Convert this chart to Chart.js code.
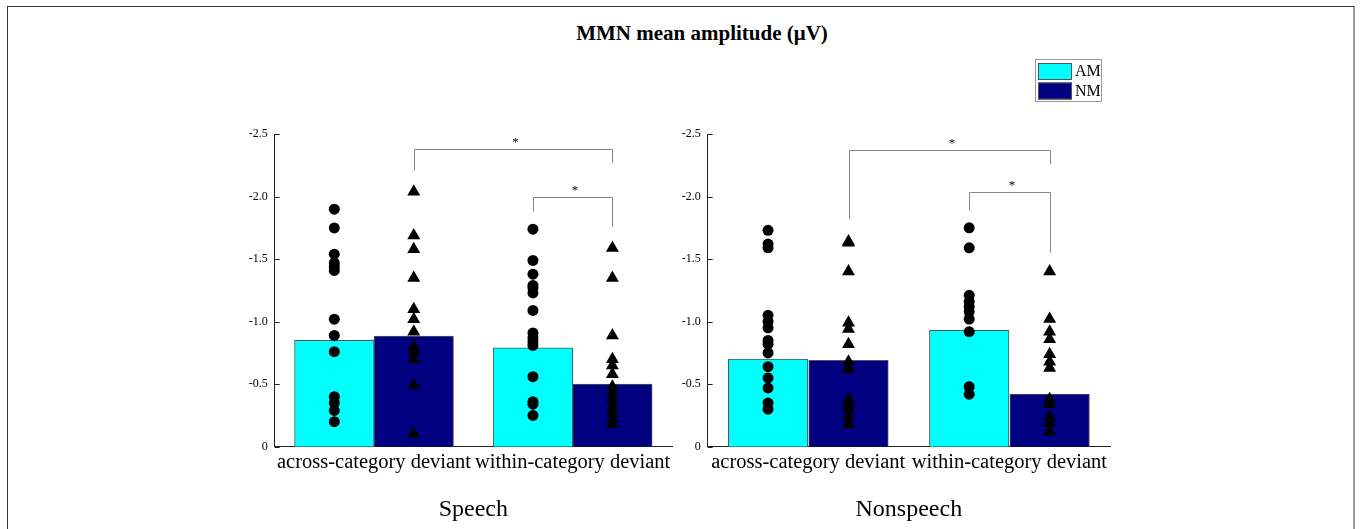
<!DOCTYPE html>
<html>
<head>
<meta charset="utf-8">
<script src="https://cdn.jsdelivr.net/npm/chart.js@4"></script>
<style>
  body { margin: 0; background: #fff; width: 1360px; height: 529px; overflow: hidden; position: relative; }
  .frame { position: absolute; left: 7px; top: 6px; width: 1345px; height: 540px;
           border-top: 1px solid #333; border-left: 1px solid #333; border-right: 2px solid #999; }
  .title { position: absolute; left: 452px; top: 21px; width: 500px; text-align: center;
           font: bold 21px "Liberation Serif"; line-height: 24px; color: #000; }
  .box { position: absolute; }
</style>
</head>
<body>
<div class="frame"></div>
<div class="title">MMN mean amplitude (μV)</div>
<div class="box" style="left:170px; top:120px; width:510px; height:409px;"><canvas id="chartL"></canvas></div>
<div class="box" style="left:620px; top:40px; width:510px; height:489px;"><canvas id="chartR"></canvas></div>
<script>
const conditions = ['across-category deviant', 'within-category deviant'];
const groups = ['AM', 'NM'];
const yTicks = [-2.5, -2.0, -1.5, -1.0, -0.5, 0];

// Speech
const speechMeanAM = [-0.85, -0.79];
const speechMeanNM = [-0.885, -0.50];
const speechAcrossAM = [-1.90, -1.75, -1.54, -1.47, -1.44, -1.41, -1.02, -0.89, -0.76, -0.40, -0.35, -0.29, -0.20];
const speechAcrossNM = [-2.04, -1.69, -1.58, -1.35, -1.10, -1.02, -0.92, -0.80, -0.76, -0.70, -0.49, -0.10];
const speechWithinAM = [-1.74, -1.49, -1.38, -1.29, -1.27, -1.23, -1.09, -0.91, -0.87, -0.84, -0.81, -0.56, -0.36, -0.34, -0.25];
const speechWithinNM = [-1.59, -1.35, -0.89, -0.70, -0.65, -0.58, -0.48, -0.43, -0.38, -0.32, -0.27, -0.22, -0.18];

// Nonspeech
const nonspeechMeanAM = [-0.70, -0.93];
const nonspeechMeanNM = [-0.69, -0.42];
const nonspeechAcrossAM = [-1.73, -1.62, -1.59, -1.05, -1.00, -0.95, -0.85, -0.82, -0.75, -0.64, -0.55, -0.47, -0.35, -0.30];
const nonspeechAcrossNM = [-1.64, -1.63, -1.40, -0.99, -0.94, -0.82, -0.68, -0.62, -0.38, -0.34, -0.30, -0.24, -0.18];
const nonspeechWithinAM = [-1.75, -1.59, -1.21, -1.16, -1.12, -1.08, -1.02, -0.92, -0.48, -0.42];
const nonspeechWithinNM = [-1.40, -1.02, -0.92, -0.86, -0.74, -0.68, -0.63, -0.38, -0.34, -0.24, -0.19, -0.12];

// significance brackets: x = condition index -/+ 0.2 (AM / NM bar), y in µV
const speechBrackets = [
  { x1: 0.2, x2: 1.2, top: -2.38, leg1: -2.21, leg2: -2.27, label: '*' },
  { x1: 0.8, x2: 1.2, top: -2.00, leg1: -1.88, leg2: -1.76, label: '*' }
];
const nonspeechBrackets = [
  { x1: 0.2, x2: 1.2, top: -2.37, leg1: -1.82, leg2: -2.26, label: '*' },
  { x1: 0.8, x2: 1.2, top: -2.04, leg1: -1.89, leg2: -1.55, label: '*' }
];

const colorAM = '#00ffff';
const colorNM = '#000080';
const axisColor = '#222';
const serif = 'Liberation Serif';
const shift = 0.2; // AM bar left of the condition, NM bar right of it

function barPoints(means, dx) {
  return means.map((v, i) => ({ x: i + dx, y: v }));
}
function dots(values, x) {
  return values.map(v => ({ x: x, y: v }));
}

const innerTicks = {
  id: 'innerTicks',
  afterDraw(chart) {
    const y = chart.scales.y, ctx = chart.ctx, left = chart.chartArea.left;
    ctx.save();
    ctx.strokeStyle = axisColor;
    ctx.lineWidth = 1;
    y.ticks.forEach(t => {
      const py = Math.round(y.getPixelForValue(t.value)) + 0.5;
      ctx.beginPath();
      ctx.moveTo(left, py);
      ctx.lineTo(left + 5, py);
      ctx.stroke();
    });
    ctx.restore();
  }
};

const brackets = {
  id: 'brackets',
  afterDatasetsDraw(chart, args, opts) {
    const x = chart.scales.x, y = chart.scales.y, ctx = chart.ctx;
    ctx.save();
    ctx.strokeStyle = '#888';
    ctx.lineWidth = 1;
    ctx.fillStyle = '#000';
    ctx.font = '13px "' + serif + '"';
    ctx.textAlign = 'center';
    ctx.textBaseline = 'alphabetic';
    (opts.items || []).forEach(b => {
      const a = Math.round(x.getPixelForValue(b.x1)) + 0.5;
      const c = Math.round(x.getPixelForValue(b.x2)) + 0.5;
      const t = Math.round(y.getPixelForValue(b.top)) + 0.5;
      ctx.beginPath();
      ctx.moveTo(a, y.getPixelForValue(b.leg1));
      ctx.lineTo(a, t);
      ctx.lineTo(c, t);
      ctx.lineTo(c, y.getPixelForValue(b.leg2));
      ctx.stroke();
      ctx.fillText(b.label, (a + c) / 2 + 2, t - 4);
    });
    ctx.restore();
  }
};

const boxLegend = {
  id: 'boxLegend',
  afterDraw(chart, args, opts) {
    if (!opts.show) return;
    const ctx = chart.ctx;
    const x = opts.x, y = opts.y;
    ctx.save();
    ctx.strokeStyle = '#999';
    ctx.lineWidth = 1;
    ctx.strokeRect(x + 0.5, y + 0.5, 66, 42);
    ctx.font = '16px "' + serif + '"';
    ctx.textBaseline = 'middle';
    ctx.textAlign = 'left';
    chart.data.datasets.slice(0, 2).forEach((ds, i) => {
      const sy = y + 4 + i * 19.5;
      ctx.fillStyle = ds.backgroundColor;
      ctx.fillRect(x + 3, sy, 34, 17);
      ctx.strokeStyle = '#555';
      ctx.strokeRect(x + 3.5, sy + 0.5, 33, 16);
      ctx.fillStyle = '#000';
      ctx.fillText(ds.label, x + 40, sy + 9);
    });
    ctx.restore();
  }
};

function makeChart(id, title, meanAM, meanNM, acrossAM, acrossNM, withinAM, withinNM, bracketList, yWidth, padRight, padTop, legend) {
  const bar = { type: 'bar', grouped: false, borderColor: '#555', borderWidth: 1, order: 2,
                barThickness: 79.5 };
  const dot = { type: 'scatter', order: 1, backgroundColor: '#000', borderWidth: 0,
                pointStyle: 'circle', pointRadius: 5.5 };
  const tri = { type: 'scatter', order: 1, backgroundColor: '#000', borderWidth: 0,
                pointStyle: 'triangle', pointRadius: 7.5 };
  return new Chart(document.getElementById(id).getContext('2d'), {
    data: {
      datasets: [
        Object.assign({ label: groups[0], data: barPoints(meanAM, -shift), backgroundColor: colorAM }, bar),
        Object.assign({ label: groups[1], data: barPoints(meanNM, shift), backgroundColor: colorNM }, bar),
        Object.assign({ label: 'AM across', data: dots(acrossAM, -shift) }, dot),
        Object.assign({ label: 'NM across', data: dots(acrossNM, shift) }, tri),
        Object.assign({ label: 'AM within', data: dots(withinAM, 1 - shift) }, dot),
        Object.assign({ label: 'NM within', data: dots(withinNM, 1 + shift) }, tri)
      ]
    },
    options: {
      responsive: true,
      maintainAspectRatio: false,
      animation: false,
      layout: { padding: { left: 0, right: padRight, top: padTop, bottom: 0 } },
      plugins: {
        legend: { display: false },
        tooltip: { enabled: false },
        brackets: { items: bracketList },
        boxLegend: legend
      },
      scales: {
        x: {
          type: 'linear', min: -0.5, max: 1.5, offset: false,
          grid: { display: false, drawTicks: false },
          border: { display: true, color: axisColor, width: 1 },
          afterBuildTicks(s) { s.ticks = conditions.map((c, i) => ({ value: i })); },
          ticks: { color: '#000', padding: 4, autoSkip: false, maxRotation: 0,
                   font: { family: serif, size: 20.5 },
                   callback: v => conditions[v] },
          title: { display: true, text: title, color: '#000', font: { family: serif, size: 24 },
                   padding: { top: 0, bottom: 5 } },
          afterFit(s) { s.height = 82.3; }
        },
        y: {
          type: 'linear', min: -2.5, max: 0, reverse: true,
          grid: { display: false, drawTicks: false },
          border: { display: true, color: axisColor, width: 1 },
          afterBuildTicks(s) { s.ticks = yTicks.map(v => ({ value: v })); },
          ticks: { color: '#000', padding: 7, font: { family: serif, size: 12 },
                   callback: v => v === 0 ? '0' : v.toFixed(1) },
          afterFit(s) { s.width = yWidth; }
        }
      }
    },
    plugins: [innerTicks, brackets, boxLegend]
  });
}

makeChart('chartL', 'Speech', speechMeanAM, speechMeanNM, speechAcrossAM, speechAcrossNM,
          speechWithinAM, speechWithinNM, speechBrackets, 104.7, 8, 14, { show: false });
makeChart('chartR', 'Nonspeech', nonspeechMeanAM, nonspeechMeanNM, nonspeechAcrossAM, nonspeechAcrossNM,
          nonspeechWithinAM, nonspeechWithinNM, nonspeechBrackets, 87.7, 20, 94, { show: true, x: 415, y: 19 });
</script>
</body>
</html>
